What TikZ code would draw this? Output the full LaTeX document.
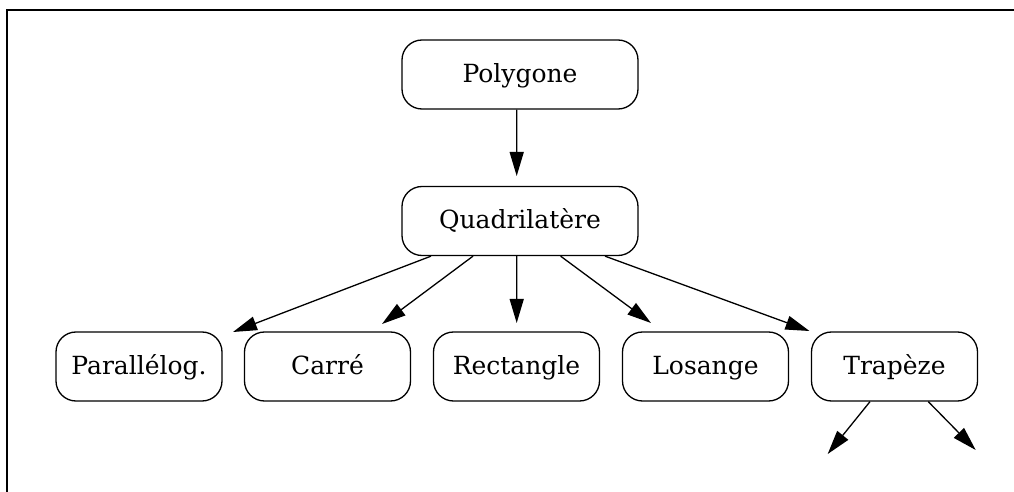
\documentclass[tikz,border=0pt]{standalone}
\usepackage{fontspec}
\setmainfont{DejaVu Serif}
\usetikzlibrary{arrows.meta,calc}

\tikzset{
  shapebox/.style={draw, rounded corners=10pt, line width=0.65pt,
    minimum height=34.5pt, inner sep=0pt, text height=9pt, text depth=1pt,
    font=\fontsize{12.5}{15}\selectfont},
  wide/.style={shapebox, minimum width=118pt},
  narrow/.style={shapebox, minimum width=83pt},
  link/.style={line width=0.65pt, -{Triangle[length=12pt,width=7pt]}},
  frameline/.style={line width=0.9pt}
}

\begin{document}
\begin{tikzpicture}[x=0.5pt, y=-0.5pt]
  \useasboundingbox (0,0) rectangle (1014,492);

  % open frame: top and left edges
  \draw[frameline] (1014,10) -- (7,10) -- (7,492);

  % hierarchy nodes
  \node[wide]   (poly)  at (520,74.5)  {Polygone};
  \node[wide]   (quad)  at (520,221)   {Quadrilatère};
  \node[narrow] (para)  at (139,366.5)   {Parallélog.};
  \node[narrow] (carre) at (327.5,366.5) {Carré};
  \node[narrow] (rect)  at (516.5,366.5) {Rectangle};
  \node[narrow] (los)   at (705.5,366.5) {Losange};
  \node[narrow] (trap)  at (894.5,366.5) {Trapèze};

  % arrow end points
  \coordinate (tq)  at (516.7,176);
  \coordinate (t1)  at (233,332);
  \coordinate (t2)  at (382,324);
  \coordinate (t3)  at (516.7,323);
  \coordinate (t4)  at (651,323);
  \coordinate (t5)  at (809.5,331);
  \coordinate (t6)  at (827.7,454);
  \coordinate (t7)  at (975.7,450);

  \draw[link] ($(poly.south)+(-3.3,0)$) -- (tq);
  \draw[link] ($(quad.south)+(-89,0)$)  -- (t1);
  \draw[link] ($(quad.south)+(-47,0)$)  -- (t2);
  \draw[link] ($(quad.south)+(-3.3,0)$) -- (t3);
  \draw[link] ($(quad.south)+(40.6,0)$) -- (t4);
  \draw[link] ($(quad.south)+(85,0)$)   -- (t5);
  \draw[link] ($(trap.south)+(-24.5,0)$) -- (t6);
  \draw[link] ($(trap.south)+(33.8,0)$)  -- (t7);
\end{tikzpicture}
\end{document}
